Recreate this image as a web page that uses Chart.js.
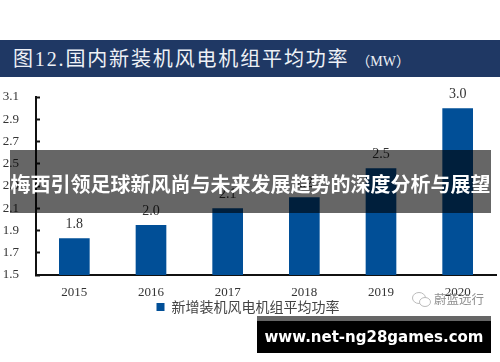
<!DOCTYPE html>
<html>
<head>
<meta charset="utf-8">
<script src="https://cdn.jsdelivr.net/npm/chart.js@4"></script>
<style>
  html, body { margin: 0; padding: 0; background: #fff; }
  #page { position: relative; width: 500px; height: 362px; overflow: hidden; }
  #page canvas { position: absolute; left: 0; top: 0; }
  .abs { position: absolute; white-space: nowrap; }
  #band { left: 0; top: 40px; width: 500px; height: 37px; background: #1f3864; }
  #title { left: 13px; top: 47px; color: #eef1f6; font: 20px/25px "Liberation Serif", "Noto Sans CJK SC", serif; letter-spacing: 1.85px; }
  #title small { font-size: 14px; letter-spacing: 0; }
  #overlay { left: 10px; top: 150px; width: 481px; height: 63px; background: rgba(0,0,0,0.6); }
  #headline { left: 10px; top: 152px; width: 481px; height: 63px; line-height: 63px; text-align: center; color: #fff; font-family: "Noto Sans CJK SC", sans-serif; font-size: 20px; font-weight: 700; }
  #urlbox { left: 257px; top: 316px; width: 234px; height: 37px; background: #000; border-top: 5px solid #666; box-sizing: border-box; }
  #url { left: 257px; top: 321px; width: 234px; height: 32px; line-height: 32px; text-align: center; color: #fff; font: 700 15px/32px "DejaVu Sans", sans-serif; }
  #mark { left: 434px; top: 291px; color: #8f8f8f; font: 12.5px/16px "Noto Sans CJK SC", sans-serif; }
  #icon { left: 411px; top: 291px; }
</style>
</head>
<body>
<div id="page">
  <div class="abs" id="band"></div>
  <div class="abs" id="title">图12.国内新装机风电机组平均功率 <small>（MW）</small></div>
  <canvas id="chart" width="500" height="362"></canvas>
  <svg class="abs" id="icon" width="22" height="18" viewBox="0 0 22 18">
    <ellipse cx="8" cy="7" rx="6.5" ry="5.5" fill="none" stroke="#bbb"/>
    <ellipse cx="14" cy="11" rx="5.5" ry="4.5" fill="#fff" stroke="#bbb"/>
  </svg>
  <div class="abs" id="mark">蔚蓝远行</div>
  <div class="abs" id="overlay"></div>
  <div class="abs" id="headline">梅西引领足球新风尚与未来发展趋势的深度分析与展望</div>
  <div class="abs" id="urlbox"></div>
  <div class="abs" id="url">www.net-ng28games.com</div>
</div>
<script>
const categories = ['2015', '2016', '2017', '2018', '2019', '2020'];
const avgPower = [1.83, 1.95, 2.1, 2.2, 2.46, 3.0];
const valueLabels = ['1.8', '2.0', '2.1', '2.2', '2.5', '3.0'];
const seriesName = '新增装机风电机组平均功率';

// numbers above the bars
const barLabels = {
  id: 'barLabels',
  afterDatasetsDraw(chart) {
    const ctx = chart.ctx;
    ctx.save();
    ctx.font = '14px "Liberation Serif", serif';
    ctx.fillStyle = '#333';
    ctx.textAlign = 'center';
    ctx.textBaseline = 'bottom';
    chart.getDatasetMeta(0).data.forEach((bar, i) => {
      ctx.fillText(valueLabels[i], bar.x, bar.y - 7);
    });
    ctx.restore();
  }
};

new Chart(document.getElementById('chart'), {
  type: 'bar',
  plugins: [barLabels],
  data: {
    labels: categories,
    datasets: [{
      label: seriesName,
      data: avgPower,
      backgroundColor: '#014f97',
      barPercentage: 0.4,
      categoryPercentage: 1
    }]
  },
  options: {
    responsive: false,
    animation: false,
    layout: { padding: { top: 97, right: 4, bottom: 38, left: 0 } },
    plugins: {
      tooltip: { enabled: false },
      legend: {
        position: 'bottom',
        labels: {
          boxWidth: 8,
          boxHeight: 8,
          padding: 3,
          color: '#444',
          font: { size: 14, family: '"Noto Sans CJK SC", sans-serif' }
        }
      }
    },
    scales: {
      x: {
        afterFit: s => { s.height = 22; },
        grid: { display: false },
        border: { color: '#111', width: 2 },
        ticks: {
          color: '#333',
          padding: 2,
          maxRotation: 0,
          font: { size: 13, family: '"Liberation Serif", serif' }
        }
      },
      y: {
        min: 1.5,
        max: 3.1,
        afterFit: s => { s.width = 36; },
        grid: { drawOnChartArea: false, tickLength: -4, color: '#111', tickWidth: 2 },
        border: { color: '#111', width: 2 },
        ticks: {
          stepSize: 0.2,
          color: '#333',
          padding: 21,
          callback: v => v.toFixed(1),
          font: { size: 13, family: '"Liberation Serif", serif' }
        }
      }
    }
  }
});
</script>
</body>
</html>
